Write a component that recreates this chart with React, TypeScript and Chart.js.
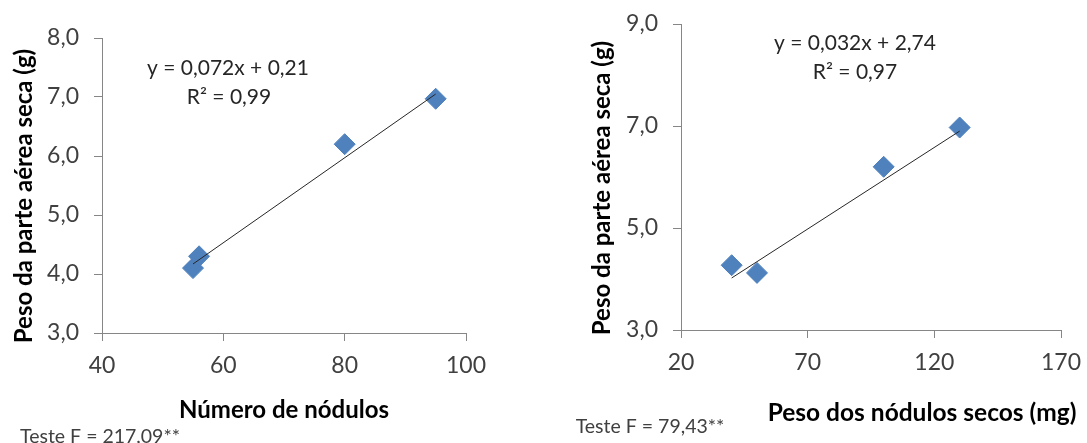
import React, { useEffect, useRef } from "react";
import { Chart, registerables } from "chart.js";

Chart.register(...registerables);

// ---- Data (left chart) ----
const leftX = [55, 56, 80, 95];
const leftY = [4.1, 4.3, 6.2, 6.97];
const leftTrendX = [55, 95];
const leftTrendY = [4.17, 7.05];
const leftXTicks = ["40", "60", "80", "100"];
const leftYTicks = ["3,0", "4,0", "5,0", "6,0", "7,0", "8,0"];
const leftXTitle = "Número de nódulos";
const leftYTitle = "Peso da parte aérea seca (g)";
const leftEq = "y = 0,072x + 0,21";
const leftR2 = "R² = 0,99";
const leftF = "Teste F = 217,09**";

// ---- Data (right chart) ----
const rightX = [40, 50, 100, 130];
const rightY = [4.27, 4.12, 6.2, 6.97];
const rightTrendX = [40, 130];
const rightTrendY = [4.02, 6.9];
const rightXTicks = ["20", "70", "120", "170"];
const rightYTicks = ["3,0", "5,0", "7,0", "9,0"];
const rightXTitle = "Peso dos nódulos secos (mg)";
const rightYTitle = "Peso da parte aérea seca (g)";
const rightEq = "y = 0,032x + 2,74";
const rightR2 = "R² = 0,97";
const rightF = "Teste F = 79,43**";

const FONT = "Lato, 'Open Sans', sans-serif";
const AXIS = "#868686";
const MARK = "#4F81BD";

type TextItem = {
  text: string;
  x: number;
  y: number;
  size: number;
  bold?: boolean;
  color: string;
  rotate?: boolean;
};

const textPlugin = {
  id: "texts",
  afterDraw(chart: any, _args: any, opts: any) {
    const ctx = chart.ctx;
    const items: TextItem[] = opts.items || [];
    items.forEach((it) => {
      ctx.save();
      ctx.font = `${it.bold ? "bold " : ""}${it.size}px ${FONT}`;
      ctx.fillStyle = it.color;
      ctx.textAlign = "center";
      ctx.textBaseline = "middle";
      ctx.translate(it.x, it.y);
      if (it.rotate) ctx.rotate(-Math.PI / 2);
      ctx.fillText(it.text, 0, 0);
      ctx.restore();
    });
  },
};

function makeConfig(p: {
  xs: number[];
  ys: number[];
  tx: number[];
  ty: number[];
  xTicks: string[];
  yTicks: string[];
  xMin: number;
  xMax: number;
  xStep: number;
  yMin: number;
  yMax: number;
  yStep: number;
  yWidth: number;
  xHeight: number;
  padding: any;
  texts: TextItem[];
}) {
  return {
    type: "scatter",
    data: {
      datasets: [
        {
          type: "line",
          data: p.tx.map((x, i) => ({ x, y: p.ty[i] })),
          borderColor: "#262626",
          borderWidth: 1,
          pointRadius: 0,
          fill: false,
          order: 0,
        },
        {
          data: p.xs.map((x, i) => ({ x, y: p.ys[i] })),
          pointStyle: "rectRot",
          pointRadius: 10.5,
          pointBackgroundColor: MARK,
          pointBorderColor: MARK,
          pointBorderWidth: 1,
          showLine: false,
          order: 1,
        },
      ],
    },
    options: {
      animation: false,
      responsive: false,
      layout: { padding: p.padding },
      plugins: {
        legend: { display: false },
        tooltip: { enabled: false },
        texts: { items: p.texts },
      },
      scales: {
        x: {
          type: "linear",
          min: p.xMin,
          max: p.xMax,
          ticks: {
            stepSize: p.xStep,
            padding: 11,
            color: "#404040",
            font: { family: FONT, size: 23 },
            callback: (_v: any, i: number) => p.xTicks[i],
          },
          grid: { drawOnChartArea: false, drawTicks: true, tickLength: 8, color: AXIS },
          border: { display: true, color: AXIS },
          afterFit: (s: any) => {
            s.height = p.xHeight;
            s.paddingLeft = 0;
            s.paddingRight = 0;
          },
        },
        y: {
          type: "linear",
          min: p.yMin,
          max: p.yMax,
          ticks: {
            stepSize: p.yStep,
            padding: 15,
            color: "#404040",
            font: { family: FONT, size: 23 },
            callback: (_v: any, i: number) => p.yTicks[i],
          },
          grid: { drawOnChartArea: false, drawTicks: true, tickLength: 8, color: AXIS },
          border: { display: true, color: AXIS },
          afterFit: (s: any) => {
            s.width = p.yWidth;
            s.paddingTop = 0;
            s.paddingBottom = 0;
          },
        },
      },
    },
    plugins: [textPlugin],
  };
}

function ChartCanvas({ config, width, height, left }: any) {
  const ref = useRef<HTMLCanvasElement>(null);
  useEffect(() => {
    if (!ref.current) return;
    const c = new Chart(ref.current, config);
    return () => c.destroy();
  }, []);
  return (
    <canvas
      ref={ref}
      width={width}
      height={height}
      style={{ position: "absolute", left, top: 0, width, height }}
    />
  );
}

export default function App() {
  const leftCfg = makeConfig({
    xs: leftX,
    ys: leftY,
    tx: leftTrendX,
    ty: leftTrendY,
    xTicks: leftXTicks,
    yTicks: leftYTicks,
    xMin: 40,
    xMax: 100,
    xStep: 20,
    yMin: 3,
    yMax: 8,
    yStep: 1,
    yWidth: 102,
    xHeight: 110,
    padding: { left: 0, top: 38, right: 545 - 466, bottom: 0 },
    texts: [
      { text: leftEq, x: 228, y: 68, size: 21, color: "#262626" },
      { text: leftR2, x: 229, y: 97, size: 21, color: "#262626" },
      { text: leftXTitle, x: 284, y: 410, size: 24, bold: true, color: "#000" },
      { text: leftYTitle, x: 24, y: 196, size: 24, bold: true, color: "#000", rotate: true },
      { text: leftF, x: 100, y: 437, size: 19.5, color: "#404040" },
    ],
  });
  const rightCfg = makeConfig({
    xs: rightX,
    ys: rightY,
    tx: rightTrendX,
    ty: rightTrendY,
    xTicks: rightXTicks,
    yTicks: rightYTicks,
    xMin: 20,
    xMax: 170,
    xStep: 50,
    yMin: 3,
    yMax: 9,
    yStep: 2,
    yWidth: 136,
    xHeight: 443 - 330,
    padding: { left: 0, top: 24, right: 542 - 516, bottom: 0 },
    texts: [
      { text: rightEq, x: 855 - 545, y: 43, size: 21, color: "#262626" },
      { text: rightR2, x: 855 - 545, y: 72, size: 21, color: "#262626" },
      { text: rightXTitle, x: 922 - 545, y: 413, size: 24.5, bold: true, color: "#000" },
      { text: rightYTitle, x: 602 - 545, y: 188, size: 24, bold: true, color: "#000", rotate: true },
      { text: rightF, x: 650 - 545, y: 427, size: 19.5, color: "#404040" },
    ],
  });
  return (
    <div style={{ position: "absolute", left: 0, top: 0, width: 1087, height: 443, background: "#fff" }}>
      <ChartCanvas config={leftCfg} width={545} height={443} left={0} />
      <ChartCanvas config={rightCfg} width={542} height={443} left={545} />
    </div>
  );
}
